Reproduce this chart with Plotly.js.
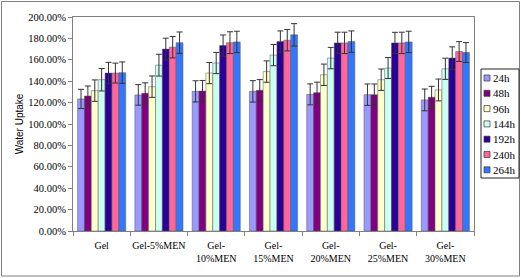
<!DOCTYPE html>
<html>
<head>
<meta charset="utf-8">
<script src="https://cdn.plot.ly/plotly-3.0.1.min.js"></script>
<style>html,body{margin:0;padding:0;background:#fff;}#chart{width:521px;height:278px;}</style>
</head>
<body>
<div id="chart"></div>
<script>
// ---- data ----
const categories = ['Gel', 'Gel-5%MEN', 'Gel-<br>10%MEN', 'Gel-<br>15%MEN', 'Gel-<br>20%MEN', 'Gel-<br>25%MEN', 'Gel-<br>30%MEN'];
const seriesNames = ['24h', '48h', '96h', '144h', '192h', '240h', '264h'];
const v24 = [123.4, 127.2, 130.5, 130.5, 127.7, 127.4, 122.5];
const v48 = [126.2, 128.7, 130.8, 131.5, 129.3, 127.4, 125.0];
const v96 = [131.2, 134.9, 147.6, 149.0, 146.0, 141.4, 131.8];
const v144 = [141.4, 155.0, 157.0, 164.4, 161.6, 152.3, 151.6];
const v192 = [147.6, 170.0, 173.3, 177.0, 175.8, 175.8, 161.6];
const v240 = [147.6, 171.8, 176.0, 178.3, 175.8, 175.8, 167.7];
const v264 = [148.0, 176.0, 176.7, 183.3, 177.0, 176.7, 166.8];
const e24 = [9.0, 9.6, 9.9, 10.0, 9.8, 10.0, 10.2];
const e48 = [9.3, 9.8, 9.9, 10.0, 9.8, 10.0, 10.2];
const e96 = [10.0, 10.0, 9.9, 10.0, 10.0, 10.0, 10.2];
const e144 = [10.5, 10.2, 9.9, 9.9, 10.0, 9.8, 9.9];
const e192 = [10.0, 10.2, 9.9, 10.0, 10.0, 9.9, 10.5];
const e240 = [9.3, 10.0, 10.2, 10.0, 10.0, 10.0, 9.3];
const e264 = [10.0, 10.0, 10.0, 10.5, 10.0, 10.0, 9.3];
const yTickVals = [0, 20, 40, 60, 80, 100, 120, 140, 160, 180, 200];
const yTickText = ['0.00%', '20.00%', '40.00%', '60.00%', '80.00%', '100.00%', '120.00%', '140.00%', '160.00%', '180.00%', '200.00%'];

const seriesValues = [v24, v48, v96, v144, v192, v240, v264];
const seriesErrors = [e24, e48, e96, e144, e192, e240, e264];
const colors = ['#9999FF', '#800080', '#FFFFCC', '#CCFFF2', '#2B0099', '#FF6699', '#3377FF'];

const SERIF = "'Liberation Serif', 'Times New Roman', Times, serif";
const SANS = "'Liberation Sans', Arial, sans-serif";

const traces = seriesNames.map((n, i) => ({
  type: 'bar',
  name: n,
  x: categories,
  y: seriesValues[i],
  marker: {color: colors[i], line: {color: '#555', width: 0.5}},
  error_y: {type: 'data', array: seriesErrors[i], visible: true, color: '#333', thickness: 1, width: 3},
  showlegend: false,
  hoverinfo: 'skip'
}));

// plot-area pixel geometry
const L = 73, R = 474, T = 17, B = 231, W = 521, H = 278;
const px = x => (x - L) / (R - L);
const py = y => (B - y) / (B - T);

const shapes = [];
const annotations = [];
// outer chart border
shapes.push({type: 'rect', xref: 'paper', yref: 'paper', x0: px(1.5), x1: px(519.5), y0: py(1.5), y1: py(276), line: {color: '#808080', width: 1}, fillcolor: 'rgba(0,0,0,0)', layer: 'below'});
// legend box
const lgTop = 69, lgBot = 178, lgL = 481, lgR = 519, step = 15.3, firstY = 78;
shapes.push({type: 'rect', xref: 'paper', yref: 'paper', x0: px(lgL), x1: px(lgR), y0: py(lgTop), y1: py(lgBot), line: {color: '#222', width: 1}, fillcolor: '#fff'});
seriesNames.forEach((n, i) => {
  const cy = firstY + i * step;
  shapes.push({type: 'rect', xref: 'paper', yref: 'paper', x0: px(484), x1: px(490), y0: py(cy + 3), y1: py(cy - 3), line: {color: '#333', width: 0.7}, fillcolor: colors[i]});
  annotations.push({xref: 'paper', yref: 'paper', x: px(491), y: py(cy), text: n, showarrow: false, xanchor: 'left', yanchor: 'middle', font: {family: SERIF, size: 11, color: '#000'}});
});

const layout = {
  width: W, height: H,
  margin: {l: L, r: W - R, t: T, b: H - B},
  paper_bgcolor: '#fff', plot_bgcolor: '#fff',
  barmode: 'group', bargap: 0.16, bargroupgap: 0,
  showlegend: false,
  font: {family: SERIF, size: 10.5, color: '#000'},
  xaxis: {
    type: 'category', tickson: 'boundaries', ticks: 'outside', ticklen: 4, tickcolor: '#808080',
    tickangle: 0, automargin: false, ticklabelstandoff: 5,
    showline: true, linecolor: '#808080', linewidth: 1, mirror: true,
    showgrid: false, zeroline: false,
    tickfont: {family: SERIF, size: 10, color: '#000'}
  },
  yaxis: {
    range: [0, 200], tickvals: yTickVals, ticktext: yTickText, automargin: false,
    ticks: 'outside', ticklen: 4, tickcolor: '#808080',
    showline: true, linecolor: '#808080', linewidth: 1, mirror: true,
    showgrid: false, zeroline: false,
    tickfont: {family: SERIF, size: 10.5, color: '#000'},
    title: {text: 'Water Uptake', font: {family: SANS, size: 10, color: '#000'}, standoff: 2}
  },
  shapes: shapes,
  annotations: annotations
};

Plotly.newPlot('chart', traces, layout, {displayModeBar: false, staticPlot: true});
</script>
</body>
</html>
